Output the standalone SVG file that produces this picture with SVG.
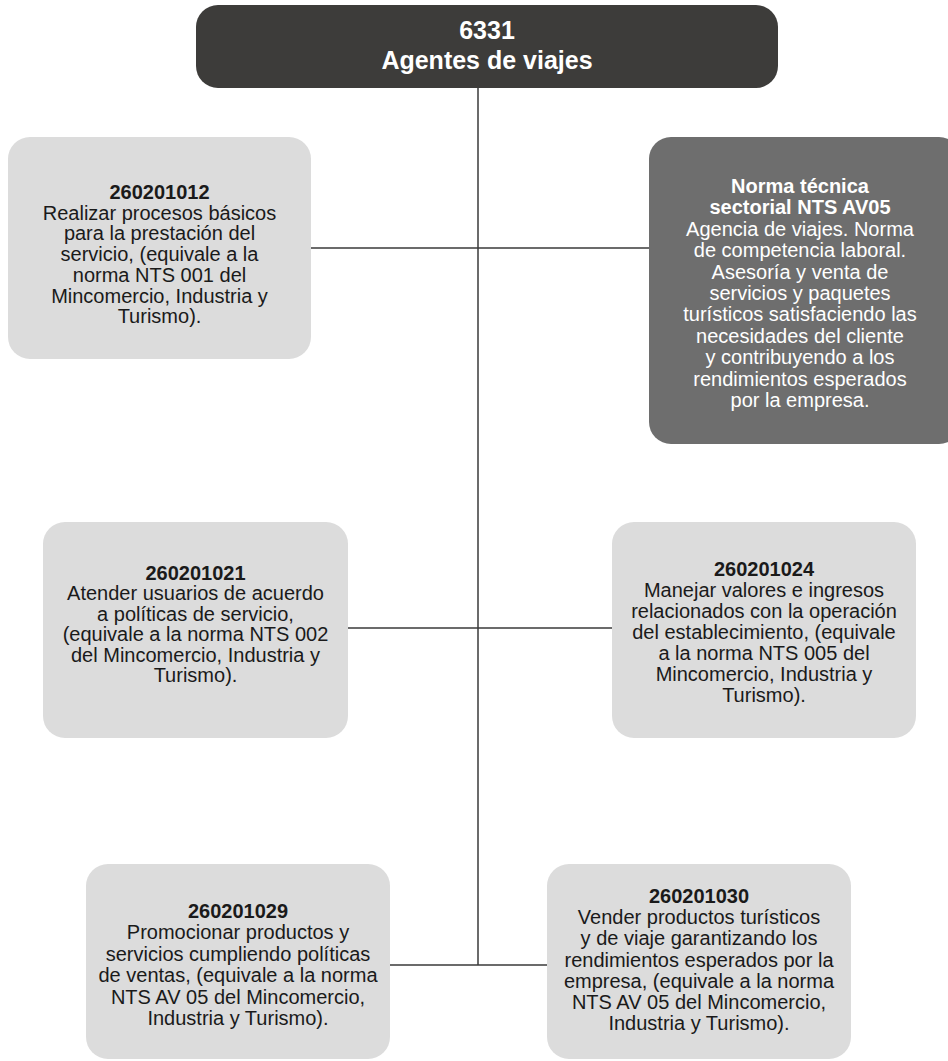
<svg xmlns="http://www.w3.org/2000/svg" width="948" height="1061" viewBox="0 0 948 1061">
<style>
.t{font-family:"Liberation Sans",Arial,sans-serif;font-size:20px;fill:#1a1a1a;text-anchor:middle}
.b{font-weight:bold}
.w{fill:#ffffff}
.light{fill:#dcdcdc}
.conn{stroke:#3a3a3a;stroke-width:1.5;fill:none}
.title{font-family:"Liberation Sans",Arial,sans-serif;font-size:25px;font-weight:bold;fill:#ffffff;text-anchor:middle}
</style>
<rect width="948" height="1061" fill="#ffffff"/>
<g id="connectors">
<line class="conn" x1="478" y1="88" x2="478" y2="965"/>
<line class="conn" x1="311" y1="248" x2="649" y2="248"/>
<line class="conn" x1="348" y1="628" x2="612" y2="628"/>
<line class="conn" x1="390" y1="965" x2="547" y2="965"/>
</g>
<g id="root">
<rect x="196" y="5" width="582" height="83" rx="22" fill="#3d3c3a"/>
<text class="title" x="487" y="39">6331</text>
<text class="title" x="487" y="69">Agentes de viajes</text>
</g>
<g id="n260201012">
<rect class="light" x="8" y="137" width="303" height="222" rx="22"/>
<text class="t b" x="159.5" y="199">260201012</text>
<text class="t" x="159.5" y="219.7">Realizar procesos básicos</text>
<text class="t" x="159.5" y="240.4">para la prestación del</text>
<text class="t" x="159.5" y="261.1">servicio, (equivale a la</text>
<text class="t" x="159.5" y="281.8">norma NTS 001 del</text>
<text class="t" x="159.5" y="302.5">Mincomercio, Industria y</text>
<text class="t" x="159.5" y="323.2">Turismo).</text>
</g>
<g id="nts-av05">
<rect x="649" y="137" width="312" height="307" rx="22" fill="#6e6e6e"/>
<text class="t b w" x="800" y="193">Norma técnica</text>
<text class="t b w" x="800" y="214.4">sectorial NTS AV05</text>
<text class="t w" x="800" y="235.8">Agencia de viajes. Norma</text>
<text class="t w" x="800" y="257.2">de competencia laboral.</text>
<text class="t w" x="800" y="278.6">Asesoría y venta de</text>
<text class="t w" x="800" y="300">servicios y paquetes</text>
<text class="t w" x="800" y="321.4">turísticos satisfaciendo las</text>
<text class="t w" x="800" y="342.8">necesidades del cliente</text>
<text class="t w" x="800" y="364.2">y contribuyendo a los</text>
<text class="t w" x="800" y="385.6">rendimientos esperados</text>
<text class="t w" x="800" y="407">por la empresa.</text>
</g>
<g id="n260201021">
<rect class="light" x="43" y="522" width="305" height="216" rx="22"/>
<text class="t b" x="195.5" y="580">260201021</text>
<text class="t" x="195.5" y="600.4">Atender usuarios de acuerdo</text>
<text class="t" x="195.5" y="620.8">a políticas de servicio,</text>
<text class="t" x="195.5" y="641.2">(equivale a la norma NTS 002</text>
<text class="t" x="195.5" y="661.6">del Mincomercio, Industria y</text>
<text class="t" x="195.5" y="682">Turismo).</text>
</g>
<g id="n260201024">
<rect class="light" x="612" y="522" width="304" height="216" rx="22"/>
<text class="t b" x="764" y="576">260201024</text>
<text class="t" x="764" y="597">Manejar valores e ingresos</text>
<text class="t" x="764" y="618">relacionados con la operación</text>
<text class="t" x="764" y="639">del establecimiento, (equivale</text>
<text class="t" x="764" y="660">a la norma NTS 005 del</text>
<text class="t" x="764" y="681">Mincomercio, Industria y</text>
<text class="t" x="764" y="702">Turismo).</text>
</g>
<g id="n260201029">
<rect class="light" x="86" y="864" width="304" height="195" rx="22"/>
<text class="t b" x="238" y="918">260201029</text>
<text class="t" x="238" y="939.4">Promocionar productos y</text>
<text class="t" x="238" y="960.8">servicios cumpliendo políticas</text>
<text class="t" x="238" y="982.2">de ventas, (equivale a la norma</text>
<text class="t" x="238" y="1003.6">NTS AV 05 del Mincomercio,</text>
<text class="t" x="238" y="1025">Industria y Turismo).</text>
</g>
<g id="n260201030">
<rect class="light" x="547" y="864" width="304" height="195" rx="22"/>
<text class="t b" x="699" y="903">260201030</text>
<text class="t" x="699" y="924.2">Vender productos turísticos</text>
<text class="t" x="699" y="945.4">y de viaje garantizando los</text>
<text class="t" x="699" y="966.6">rendimientos esperados por la</text>
<text class="t" x="699" y="987.8">empresa, (equivale a la norma</text>
<text class="t" x="699" y="1009">NTS AV 05 del Mincomercio,</text>
<text class="t" x="699" y="1030.2">Industria y Turismo).</text>
</g>
</svg>
